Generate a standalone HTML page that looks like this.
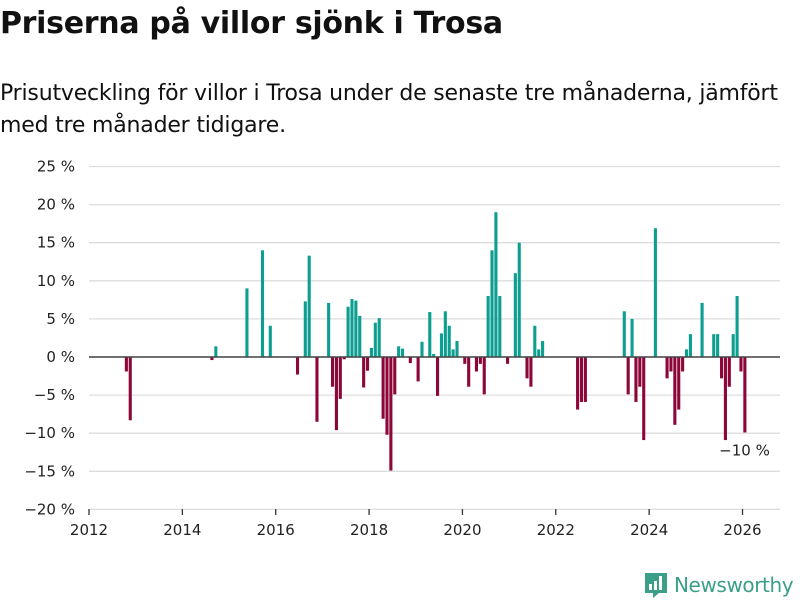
<!DOCTYPE html>
<html><head><meta charset="utf-8"><style>
body{margin:0;width:800px;height:600px;background:#fff;font-family:"Liberation Sans","DejaVu Sans",sans-serif;overflow:hidden;position:relative;color:#111}
h1{position:absolute;left:0;top:6px;margin:0;font-size:30px;font-weight:bold;font-family:"DejaVu Sans","Liberation Sans",sans-serif;letter-spacing:-0.3px}
p{position:absolute;left:0;top:78px;margin:0;font-size:22px;line-height:32px;font-family:"DejaVu Sans","Liberation Sans",sans-serif;width:800px;letter-spacing:-0.2px}
svg text{font-family:"DejaVu Sans","Liberation Sans",sans-serif;font-size:15px;fill:#222}
</style></head><body>
<h1>Priserna på villor sjönk i Trosa</h1>
<p>Prisutveckling för villor i Trosa under de senaste tre månaderna, jämfört<br>med tre månader tidigare.</p>
<svg id="chart" width="800" height="600" style="position:absolute;left:0;top:0"></svg>
<script>
const months=[9,10,31,32,40,44,46,53,55,56,58,61,62,63,64,65,66,67,68,69,70,71,72,73,74,75,76,77,78,79,80,82,84,85,87,88,89,90,91,92,93,94,96,97,99,100,101,102,103,104,105,107,109,110,112,113,114,115,116,125,126,127,137,138,139,140,141,142,145,148,149,150,151,152,153,154,157,160,161,162,163,164,165,166,167,168];
const values=[-1.9,-8.3,-0.4,1.4,9.0,14.0,4.1,-2.3,7.3,13.3,-8.5,7.1,-3.9,-9.6,-5.5,-0.3,6.6,7.6,7.4,5.4,-4.0,-1.8,1.2,4.5,5.1,-8.1,-10.2,-14.9,-4.9,1.4,1.1,-0.8,-3.2,2.0,5.9,0.4,-5.1,3.1,6.0,4.1,1.0,2.1,-0.9,-3.9,-1.9,-0.9,-4.9,8.0,14.0,19.0,8.0,-0.9,11.0,15.0,-2.8,-3.9,4.1,1.0,2.1,-6.9,-5.9,-5.9,6.0,-4.9,5.0,-5.9,-3.9,-10.9,16.9,-2.8,-1.9,-8.9,-6.9,-1.9,1.0,3.0,7.1,3.0,3.0,-2.8,-10.9,-3.9,3.0,8.0,-1.9,-9.9];
const yTicks=[25,20,15,10,5,0,-5,-10,-15,-20];
const xTickYears=[2012,2014,2016,2018,2020,2022,2024,2026];
const NS='http://www.w3.org/2000/svg';
const svg=document.getElementById('chart');
const x0=89,mw=3.89;
const xm=m=>x0+m*mw;
const y=v=>357-v*7.62;
function mk(t,a){const e=document.createElementNS(NS,t);for(const k in a)e.setAttribute(k,a[k]);svg.appendChild(e);return e;}
yTicks.forEach(v=>{
  const l=mk('line',{x1:89,x2:780,y1:y(v),y2:y(v),stroke:'#ddd','stroke-width':1.3});
  
  
  const t=mk('text',{x:75,y:y(v)+5,'text-anchor':'end'});
  t.textContent=(v<0?'\u2212'+(-v):v)+' %';
  
  
});
xTickYears.forEach(yr=>{
  const xx=xm((yr-2012)*12);
  const l=mk('line',{x1:xx,x2:xx,y1:509,y2:515,stroke:'#333','stroke-width':1.3});
  
  
  const t=mk('text',{x:xx,y:535,'text-anchor':'middle'});
  t.textContent=yr;
  
  
});
months.forEach((m,i)=>{
  const v=values[i];
  const r=mk('rect',{x:xm(m)+0.8,width:3.1,y:v>=0?y(v):y(0),height:Math.abs(y(v)-y(0)),fill:v>=0?'#0c9e90':'#8c0639'});
  
  
});
const base=mk('line',{x1:89,x2:780,y1:y(0),y2:y(0),stroke:'#444','stroke-width':1.6});


const last=values[values.length-1];
const ann=mk('text',{x:xm(months[months.length-1])+2,y:y(last)+23,'text-anchor':'middle','font-size':'14'});
ann.textContent='\u2212'+Math.round(-last)+' %';


</script>
<div style="position:absolute;left:645px;top:571px;display:flex;align-items:center">
<svg width="22" height="28" viewBox="0 0 22 28"><path d="M0 2h22v20h-8l-6 5v-5H0z" fill="#3a9e88"/><rect x="4" y="13" width="3" height="6" fill="#fff"/><rect x="9" y="10" width="3" height="9" fill="#fff"/><rect x="14" y="5" width="3" height="14" fill="#fff"/></svg>
<span style="margin-left:7px;font-size:20px;color:#3a9e88;font-family:'DejaVu Sans','Liberation Sans',sans-serif;letter-spacing:-0.4px">Newsworthy</span>
</div>
</body></html>
